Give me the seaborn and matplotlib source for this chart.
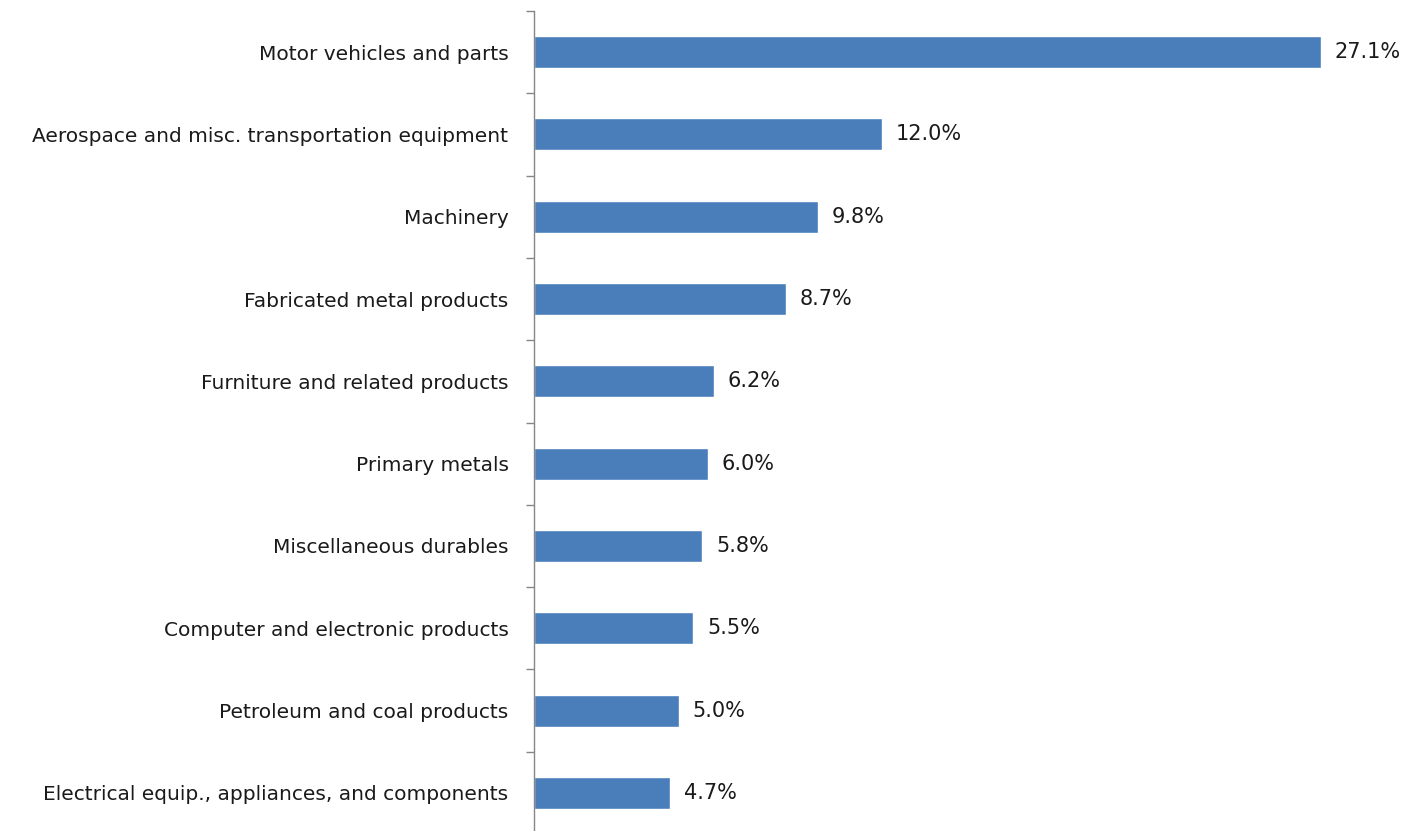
import matplotlib
matplotlib.use("Agg")
import matplotlib.pyplot as plt
import seaborn as sns
import pandas as pd
import numpy as np

categories = [
    "Motor vehicles and parts",
    "Aerospace and misc. transportation equipment",
    "Machinery",
    "Fabricated metal products",
    "Furniture and related products",
    "Primary metals",
    "Miscellaneous durables",
    "Computer and electronic products",
    "Petroleum and coal products",
    "Electrical equip., appliances, and components",
]
values = [27.1, 12.0, 9.8, 8.7, 6.2, 6.0, 5.8, 5.5, 5.0, 4.7]

df = pd.DataFrame({"category": categories, "value": values})

sns.set_style("white")
plt.rcParams["font.family"] = ["DejaVu Sans"]

W, H = 1414, 831
fig = plt.figure(figsize=(W / 100, H / 100), dpi=100)
left_px, top_px, bottom_px = 533.5, 11, 834
ax = fig.add_axes([left_px / W, (H - bottom_px) / H, 1 - left_px / W, (bottom_px - top_px) / H])

sns.barplot(data=df, x="value", y="category", orient="h", color="#4A7EBB",
            saturation=1, width=0.39, ax=ax)

ax.set_xlim(0, (W - left_px) / 29.05)
ax.set_ylim(len(categories) - 0.5, -0.5)

for s in ["top", "right", "bottom"]:
    ax.spines[s].set_visible(False)
ax.spines["left"].set_color("#868686")
ax.spines["left"].set_linewidth(1.0)

ax.set_xticks([])
ax.set_xlabel("")
ax.set_ylabel("")
ax.set_yticks(np.arange(len(categories)))
ax.set_yticklabels(categories, fontsize=14.5, color="#1a1a1a")
ax.tick_params(axis="y", which="major", left=False, length=0, pad=18)
ax.set_yticks(np.arange(-0.5, len(categories) + 0.5, 1), minor=True)
ax.tick_params(axis="y", which="minor", left=True, length=6, width=1.0, color="#868686")

for c in ax.containers:
    ax.bar_label(c, labels=[f"{v:.1f}%" for v in values], padding=10,
                 fontsize=15, color="#1a1a1a")

fig.savefig("out.png", dpi=100)
